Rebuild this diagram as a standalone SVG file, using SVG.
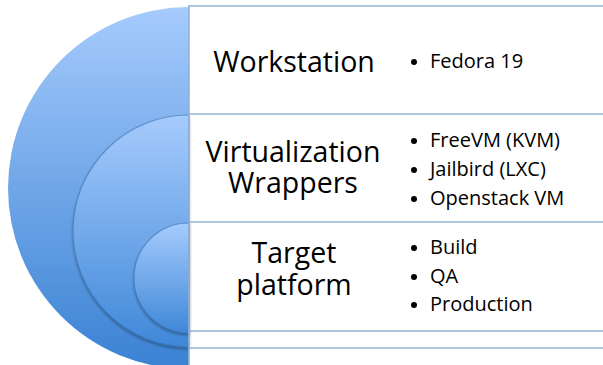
<svg xmlns="http://www.w3.org/2000/svg" width="603" height="365" viewBox="0 0 603 365">
<style>
.title{font-family:"Open Sans","Noto Sans",sans-serif;font-size:28.5px;fill:#000;text-anchor:middle}
.item{font-family:"Open Sans","Noto Sans",sans-serif;font-size:20px;fill:#000;font-weight:500}
.sep{stroke:#93b2d6;stroke-width:1.6;fill:none}
.ring{stroke:#3c6fae;stroke-opacity:0.55;stroke-width:1.2}
</style>
<defs>
<linearGradient id="g1" x1="0" y1="0" x2="0" y2="1">
<stop offset="0" stop-color="#a6cbfd"/>
<stop offset="1" stop-color="#3a82d3"/>
</linearGradient>
<linearGradient id="g2" x1="0" y1="0" x2="0" y2="1">
<stop offset="0" stop-color="#a6cbfd"/>
<stop offset="1" stop-color="#3f88d8"/>
</linearGradient>
<filter id="sh" x="-20%" y="-20%" width="140%" height="140%">
<feGaussianBlur in="SourceAlpha" stdDeviation="1.5"/>
<feOffset dx="0" dy="2" result="b"/>
<feComponentTransfer><feFuncA type="linear" slope="0.35"/></feComponentTransfer>
<feMerge><feMergeNode/><feMergeNode in="SourceGraphic"/></feMerge>
</filter>
</defs>
<rect width="603" height="365" fill="#fff"/>
<g id="circles">
<path d="M189,7 A181,181 0 0 0 189,369 Z" fill="url(#g1)"/>
<path d="M189,115 A116,116 0 0 0 189,347 Z" fill="url(#g2)" class="ring" filter="url(#sh)"/>
<path d="M189,223 A55,55 0 0 0 189,333 Z" fill="url(#g2)" class="ring" filter="url(#sh)"/>
</g>
<g id="connectors">
<line class="sep" x1="189" y1="6" x2="603" y2="6"/>
<line class="sep" x1="189" y1="114" x2="603" y2="114"/>
<line class="sep" x1="189" y1="222" x2="603" y2="222"/>
<line class="sep" x1="189" y1="331" x2="603" y2="331"/>
<line class="sep" x1="189" y1="348" x2="603" y2="348"/>
<line class="sep" x1="189" y1="5" x2="189" y2="365"/>
</g>
<g id="workstation">
<text class="title" x="294" y="72">Workstation</text>
<circle cx="414" cy="62" r="3"/>
<text class="item" x="430" y="68">Fedora 19</text>
</g>
<g id="virtualization">
<text class="title" x="293" y="162">Virtualization</text>
<text class="title" x="293" y="193">Wrappers</text>
<circle cx="414" cy="141" r="3"/>
<text class="item" x="430" y="147">FreeVM (KVM)</text>
<circle cx="414" cy="170" r="3"/>
<text class="item" x="430" y="176">Jailbird (LXC)</text>
<circle cx="414" cy="199" r="3"/>
<text class="item" x="430" y="205">Openstack VM</text>
</g>
<g id="target">
<text class="title" x="294" y="263">Target</text>
<text class="title" x="294" y="295">platform</text>
<circle cx="414" cy="248" r="3"/>
<text class="item" x="430" y="254">Build</text>
<circle cx="414" cy="277" r="3"/>
<text class="item" x="430" y="283">QA</text>
<circle cx="414" cy="305" r="3"/>
<text class="item" x="430" y="311">Production</text>
</g>
</svg>
